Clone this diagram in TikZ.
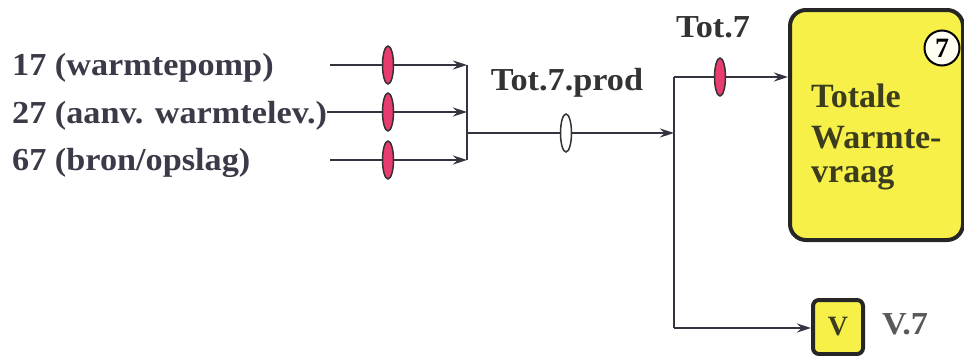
\documentclass[tikz,border=0pt]{standalone}
\usepackage{fontspec}
\setmainfont{Liberation Serif}[BoldFont={Liberation Serif Bold}]
\newfontfamily\widelabelfont{Liberation Serif}[BoldFont={Liberation Serif Bold},FakeStretch=1.07]
\usetikzlibrary{arrows.meta,shapes.geometric}
\definecolor{inkgray}{RGB}{58,58,72}
\definecolor{boxink}{RGB}{60,60,30}
\definecolor{valvepink}{RGB}{232,60,110}
\definecolor{demandyellow}{RGB}{246,240,72}
\begin{document}
\begin{tikzpicture}[x=1pt,y=-1pt,
  flow/.style={line width=1.6pt,draw=inkgray!90!black,-{Stealth[length=14pt,width=9pt]}},
  plain/.style={line width=1.6pt,draw=inkgray!90!black},
  valve/.style={ellipse,draw=black!80,line width=1.5pt,fill=valvepink,minimum width=11pt,minimum height=38pt,inner sep=0pt},
  openvalve/.style={valve,fill=white},
  lbl/.style={font=\widelabelfont\fontsize{32}{38}\selectfont\bfseries,text=inkgray,inner sep=0pt},
  boxtext/.style={font=\fontsize{34}{41}\selectfont\bfseries,text=boxink,inner sep=0pt,anchor=base west},
  demand/.style={draw=black!85,line width=4pt,fill=demandyellow,rounded corners=16pt}
]
\useasboundingbox (0,0) rectangle (964,356);

% source labels
\node[lbl,anchor=base west] (l17) at (12,75) {17 (warmtepomp)};
\node[lbl,anchor=base west] (l27) at (12,123) {27 (aanv. warmtelev.)};
\node[lbl,anchor=base west] (l67) at (12,170) {67 (bron/opslag)};

% start and end points of the three supply lines
\coordinate (s17) at (330,65);
\coordinate (s27) at (l27.east |- 0,112);
\coordinate (s67) at (330,160);
\coordinate (e17) at (467,65);
\coordinate (e27) at (467,112);
\coordinate (e67) at (467,160);
\coordinate (join) at (467,133);

% collector bar and production line
\draw[plain] (e17) -- (e67);
\draw[flow] (s17) -- (e17);
\draw[flow] (s27) -- (e27);
\draw[flow] (s67) -- (e67);
\node[valve] (v17) at (388,65) {};
\node[valve] (v27) at (388,112) {};
\node[valve] (v67) at (388,160) {};

\coordinate (split) at (674,133);
\coordinate (top) at (674,77);
\coordinate (bot) at (674,328);
\draw[flow] (join) -- (split);
\node[openvalve] (vprod) at (566,133) {};
\node[lbl,text=black!80] (tprod) at (567,83) {Tot.7.prod};

% total heat demand block
\node[demand,minimum width=173pt,minimum height=230pt,anchor=north west] (demandbox) at (788,8) {};
\node[boxtext] (d1) at (811,107) {Totale};
\node[boxtext] (d2) at (811,148) {Warmte-};
\node[boxtext] (d3) at (811,182) {vraag};
\node[circle,draw=black,line width=2pt,fill=white!95!yellow,minimum size=35pt,inner sep=0pt,
      font=\fontsize{28}{28}\selectfont\bfseries] (num7) at (942,48) {7};

% loss block
\node[draw=black!85,line width=4pt,fill=demandyellow,rounded corners=6pt,
      minimum width=50pt,minimum height=54pt,anchor=north west,
      font=\fontsize{28}{28}\selectfont\bfseries,text=boxink] (vbox) at (811,298) {V};
\node[lbl,text=black!65] (v7) at (905,324) {V.7};

% distribution branches
\draw[plain] (top) -- (bot);
\draw[flow] (top) -- (demandbox.west |- top);
\draw[flow] (bot) -- (vbox.west |- bot);
\node[valve] (vtot) at (720,77) {};
\node[lbl,text=black!80] (ttot) at (713,27) {Tot.7};
\end{tikzpicture}
\end{document}
